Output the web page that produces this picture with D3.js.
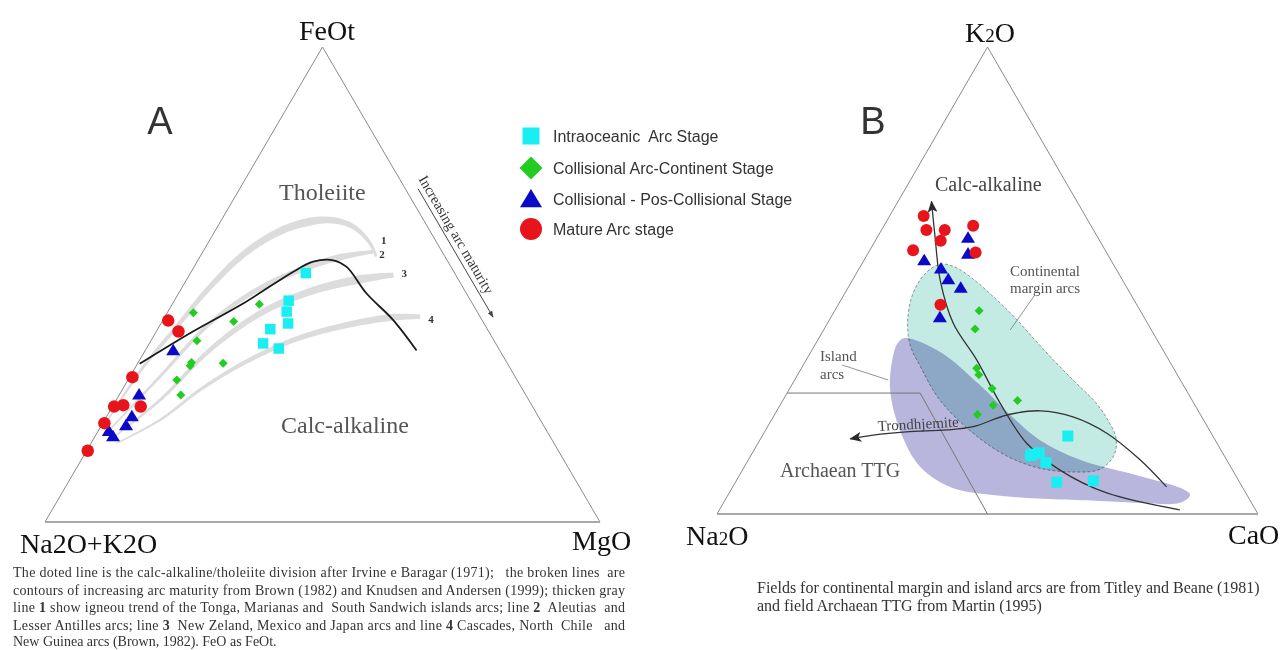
<!DOCTYPE html>
<html>
<head>
<meta charset="utf-8">
<script src="https://cdn.jsdelivr.net/npm/d3@7"></script>
<style>
  body { margin: 0; background: #fff; }
  svg { display: block; }
</style>
</head>
<body>
<svg id="chart" width="1285" height="650"></svg>
<script>
// ===== Diagram A: AFM ternary, each point is [Na2O+K2O, FeOt, MgO] (%)
const afmIntraoceanic = [
  [26.8, 52.4, 20.8], [32.8, 46.6, 20.6], [34.3, 44.3, 21.4], [35.3, 41.8, 22.9],
  [39.1, 40.6, 20.3], [41.9, 37.6, 20.5], [39.7, 36.6, 23.9]
];
const afmCollisionalArc = [
  [51.3, 44.1, 4.7], [38.5, 45.9, 15.7], [44.9, 42.2, 12.9], [53.6, 38.2, 8.3],
  [56.8, 33.6, 9.6], [57.4, 32.9, 9.7], [51.2, 33.4, 15.4], [61.3, 29.9, 8.8],
  [62.1, 26.7, 11.1]
];
const afmPosCollisional = [
  [58.8, 36.2, 5.0], [69.6, 26.9, 3.5], [73.2, 22.3, 4.5], [75.2, 20.4, 4.4],
  [78.7, 18.1, 3.2], [78.9, 19.2, 1.9]
];
const afmMatureArc = [
  [56.6, 42.4, 1.0], [55.9, 40.1, 4.0], [69.0, 30.5, 0.5], [75.4, 24.3, 0.3],
  [73.6, 24.6, 1.8], [70.6, 24.3, 5.1], [78.9, 20.8, 0.3], [84.8, 15.0, 0.2]
];
// Irvine & Baragar (1971) calc-alkaline / tholeiite division
const afmDivision = [
  [66.3, 33.3, 0.4], [53.3, 40.1, 6.6], [41.3, 46.0, 12.7], [28.9, 52.7, 18.4],
  [24.3, 54.8, 20.9], [20.5, 55.1, 24.4], [18.8, 53.7, 27.5], [18.0, 48.1, 33.9],
  [16.0, 42.5, 41.5], [15.0, 36.1, 48.9]
];
// Arc maturity trends (Brown, 1982)
const trend1 = [
  [79.4, 20.1, 0.5], [65.9, 32.7, 1.4], [55.7, 41.1, 3.2], [45.5, 49.5, 5.0],
  [35.2, 56.9, 7.9], [25.6, 61.8, 12.6], [17.4, 63.6, 19.0], [13.4, 62.2, 24.4],
  [12.1, 58.7, 29.2], [12.4, 55.9, 31.7]
];
const trend2 = [
  [80.5, 18.0, 1.5], [64.0, 30.6, 5.4], [49.4, 41.8, 8.8], [36.7, 49.2, 14.1],
  [25.4, 53.8, 20.8], [18.3, 55.9, 25.8], [12.4, 56.9, 30.7]
];
const trend3 = [
  [79.6, 17.3, 3.1], [66.4, 25.7, 7.9], [52.2, 36.2, 11.6], [39.3, 43.9, 16.8],
  [28.0, 48.5, 23.5], [17.7, 51.1, 31.2], [11.2, 52.0, 36.8]
];
const trend4 = [
  [78.8, 16.6, 4.6], [68.5, 21.5, 10.0], [58.2, 27.8, 14.0], [47.6, 33.4, 19.0],
  [36.1, 38.3, 25.6], [25.6, 41.3, 33.1], [15.7, 43.1, 41.2], [10.8, 43.2, 46.0]
];
const trendNames = ["1", "2", "3", "4"];

// ===== Diagram B: Na2O – K2O – CaO ternary, each point is [Na2O, K2O, CaO] (%)
const nkcIntraoceanic = [
  [26.8, 16.7, 56.5], [35.2, 12.8, 52.0], [33.9, 13.1, 53.0], [33.7, 11.0, 55.3],
  [33.8, 6.8, 59.4], [26.9, 7.1, 66.0], [35.8, 12.5, 51.7]
];
const nkcCollisionalArc = [
  [29.8, 43.5, 26.7], [32.5, 39.6, 27.9], [36.4, 31.2, 32.4], [36.7, 29.8, 33.5],
  [35.7, 26.9, 37.4], [37.3, 23.3, 39.4], [32.3, 24.3, 43.4], [41.2, 21.3, 37.5]
];
const nkcPosCollisional = [
  [24.0, 59.2, 16.8], [25.7, 55.8, 18.5], [34.5, 54.4, 11.1], [32.3, 52.6, 15.1],
  [32.1, 50.3, 17.6], [30.7, 48.5, 20.8], [37.7, 42.2, 20.1]
];
const nkcMatureArc = [
  [29.9, 63.8, 6.3], [30.9, 60.8, 8.3], [27.5, 60.8, 11.7], [29.4, 58.5, 12.1],
  [35.5, 56.5, 8.0], [21.8, 61.7, 16.5], [24.2, 56.0, 19.8], [36.3, 44.8, 18.9]
];
// Continental margin arcs field (Titley & Beane, 1981)
const continentalField = [
  [32.0, 53.5, 14.5], [29.6, 52.9, 17.5], [27.5, 50.3, 22.2], [25.5, 46.2, 28.3],
  [23.9, 42.0, 34.1], [22.6, 37.3, 40.1], [21.2, 32.6, 46.2], [19.7, 28.3, 52.0],
  [18.1, 24.0, 57.9], [17.7, 20.1, 62.2], [18.1, 16.3, 65.6], [20.3, 12.6, 67.1],
  [24.4, 9.6, 66.0], [29.7, 9.0, 61.3], [35.4, 9.8, 54.8], [40.2, 12.4, 47.4],
  [44.0, 17.3, 38.7], [46.6, 24.4, 29.0], [46.6, 31.7, 21.7], [46.2, 36.2, 17.6],
  [44.0, 41.5, 14.5], [40.1, 47.3, 12.6], [35.6, 51.6, 12.8]
];
// Archaean TTG field (Martin, 1995)
const ttgField = [
  [46.4, 37.7, 15.9], [41.4, 34.7, 23.9], [37.6, 27.6, 34.8], [35.2, 21.2, 43.6],
  [32.4, 15.8, 51.8], [27.1, 11.6, 61.3], [17.7, 8.1, 74.2], [11.6, 5.6, 82.8],
  [10.5, 4.1, 85.4], [13.2, 2.4, 84.4], [20.6, 2.4, 77.0], [27.8, 2.8, 69.4],
  [45.7, 3.9, 50.4], [54.0, 5.8, 40.2], [57.4, 10.1, 32.5], [57.2, 18.0, 24.8],
  [54.7, 26.6, 18.7], [51.1, 33.0, 15.9], [48.3, 36.6, 15.1]
];
// Island arcs field boundary
const islandBoundary = [[74.1, 25.9, 0.0], [49.5, 25.9, 24.6], [50.0, 0.0, 50.0]];
// Calc-alkaline and trondhjemitic differentiation trends
const calcAlkalineTrend = [
  [14.0, 0.9, 85.1], [25.7, 4.5, 69.8], [31.9, 9.4, 58.7], [35.2, 15.2, 49.6],
  [35.8, 23.8, 40.4], [35.5, 33.0, 31.5], [35.9, 40.9, 23.2], [33.7, 50.1, 16.2],
  [30.0, 59.4, 10.6], [26.9, 66.9, 6.2]
];
const trondhjemiteTrend = [
  [14.0, 5.8, 80.2], [16.0, 11.6, 72.4], [19.3, 17.3, 63.4], [23.8, 20.8, 55.4],
  [29.2, 22.1, 48.7], [35.8, 21.2, 43.0], [43.3, 18.7, 38.0], [48.5, 18.0, 33.5],
  [56.2, 17.6, 26.2], [62.7, 16.9, 20.4], [67.3, 16.1, 16.6]
];
const islandLeader = [[60.9, 31.9, 7.2], [54.0, 28.7, 17.3]];
const continentalLeader = [[17.8, 46.9, 35.3], [26.1, 39.4, 34.5]];

const legendLabels = [
  "Intraoceanic  Arc Stage",
  "Collisional Arc-Continent Stage",
  "Collisional - Pos-Collisional Stage",
  "Mature Arc stage"
];
const stageColors = ["#19eef2", "#22cc22", "#0a0ac8", "#e8141c"];
const stageShapes = ["square", "diamond", "triangle", "circle"];

const captionA = [
  ["The doted line is the calc-alkaline/tholeiite division after Irvine e Baragar (1971);   the broken lines  are"],
  ["contours of increasing arc maturity from Brown (1982) and Knudsen and Andersen (1999); thicken gray"],
  ["line ", "1", " show igneou trend of the Tonga, Marianas and  South Sandwich islands arcs; line ", "2", "  Aleutias  and"],
  ["Lesser Antilles arcs; line ", "3", "  New Zeland, Mexico and Japan arcs and line ", "4", " Cascades, North  Chile   and"],
  ["New Guinea arcs (Brown, 1982). FeO as FeOt."]
];
const captionB = [
  "Fields for continental margin and island arcs are from Titley and Beane (1981)",
  "and field Archaean TTG from Martin (1995)"
];

// ---------------------------------------------------------------------------
const svg = d3.select("#chart");
const serif = "'Liberation Serif', 'Times New Roman', serif";
const sans = "'Liberation Sans', Arial, sans-serif";

// Ternary projection: p = [left, top, right]; x follows right + top/2, y follows top
function makeTernary(x0, x1, yBase, yApex) {
  const x = d3.scaleLinear().domain([0, 1]).range([x0, x1]);
  const y = d3.scaleLinear().domain([0, 1]).range([yBase, yApex]);
  return p => {
    const s = p[0] + p[1] + p[2];
    return [x((p[2] + p[1] / 2) / s), y(p[1] / s)];
  };
}
const projA = makeTernary(45, 600, 522, 47);
const projB = makeTernary(717, 1258, 514, 47);

const defs = svg.append("defs");
defs.append("marker").attr("id", "arrowDark")
  .attr("viewBox", "0 0 12 10").attr("refX", 11).attr("refY", 5)
  .attr("markerWidth", 12).attr("markerHeight", 10)
  .attr("markerUnits", "userSpaceOnUse").attr("orient", "auto")
  .append("path").attr("d", "M0,0 L12,5 L0,10 L3,5 Z").attr("fill", "#2a2a2a");
defs.append("marker").attr("id", "arrowSmall")
  .attr("viewBox", "0 0 8 6").attr("refX", 7).attr("refY", 3)
  .attr("markerWidth", 7).attr("markerHeight", 5)
  .attr("markerUnits", "userSpaceOnUse").attr("orient", "auto")
  .append("path").attr("d", "M0,0 L8,3 L0,6 Z").attr("fill", "#444");

function drawFrame(g, proj) {
  const corners = [[100, 0, 0], [0, 100, 0], [0, 0, 100]].map(proj);
  g.append("path")
    .attr("d", d3.line()([corners[0], corners[1], corners[2]]))
    .attr("fill", "none").attr("stroke", "#8a8a8a").attr("stroke-width", 1);
  g.append("line")
    .attr("x1", corners[0][0]).attr("y1", corners[0][1])
    .attr("x2", corners[2][0]).attr("y2", corners[2][1])
    .attr("stroke", "#a8a8a8").attr("stroke-width", 2);
  return corners;
}

function symbolPath(shape, size) {
  const h = size / 2;
  switch (shape) {
    case "square": return `M${-h},${-h}H${h}V${h}H${-h}Z`;
    case "diamond": return `M0,${-h}L${h},0L0,${h}L${-h},0Z`;
    case "triangle": return `M0,${-h * 0.9}L${h},${h * 0.75}L${-h},${h * 0.75}Z`;
    default: return `M${h},0A${h},${h} 0 1 1 ${-h},0A${h},${h} 0 1 1 ${h},0Z`;
  }
}

function drawPoints(g, proj, data, idx, size) {
  g.selectAll(null).data(data).enter().append("path")
    .attr("transform", d => { const [x, y] = proj(d); return `translate(${x},${y})`; })
    .attr("d", symbolPath(stageShapes[idx], size))
    .attr("fill", stageColors[idx]);
}

// Ribbon whose width grows along the curve
function taperedRibbon(pts, w0, w1, tipFrac, tipW) {
  const tmp = svg.append("path")
    .attr("d", d3.line().curve(d3.curveCatmullRom.alpha(0.5))(pts))
    .attr("fill", "none");
  const node = tmp.node();
  const L = node.getTotalLength();
  const N = 120, left = [], right = [];
  for (let i = 0; i <= N; i++) {
    const t = i / N, s = t * L;
    const p = node.getPointAtLength(s);
    const pa = node.getPointAtLength(Math.max(0, s - 0.6));
    const pb = node.getPointAtLength(Math.min(L, s + 0.6));
    let dx = pb.x - pa.x, dy = pb.y - pa.y;
    const d = Math.hypot(dx, dy) || 1; dx /= d; dy /= d;
    let w = w0 + (w1 - w0) * Math.min(1, t / (1 - tipFrac));
    if (t > 1 - tipFrac) w = w1 + (tipW - w1) * (t - (1 - tipFrac)) / tipFrac;
    left.push([p.x - dy * w / 2, p.y + dx * w / 2]);
    right.push([p.x + dy * w / 2, p.y - dx * w / 2]);
  }
  tmp.remove();
  return d3.line()(left.concat(right.reverse())) + "Z";
}

// ------------------------------- Diagram A ---------------------------------
const gA = svg.append("g");
drawFrame(gA, projA);

const trends = [trend1, trend2, trend3, trend4];
const trendWidths = [[1.5, 8, 0.22, 2.5], [1.5, 6.5, 0.1, 3.5], [1.5, 8.5, 0.1, 5], [1.5, 7, 0.08, 4.5]];
trends.forEach((tr, i) => {
  const w = trendWidths[i];
  gA.append("path").attr("d", taperedRibbon(tr.map(projA), w[0], w[1], w[2], w[3]))
    .attr("fill", "#dcdcdc");
});

gA.append("path")
  .attr("d", d3.line().curve(d3.curveCatmullRom.alpha(0.5))(afmDivision.map(projA)))
  .attr("fill", "none").attr("stroke", "#1a1a1a").attr("stroke-width", 1.8);

// Trend labels at the right end of each ribbon
const trendLabelOffsets = [[5, -12], [6, 6], [8, 2], [8, 6]];
trends.forEach((tr, i) => {
  const [x, y] = projA(tr[tr.length - 1]);
  gA.append("text").attr("x", x + trendLabelOffsets[i][0]).attr("y", y + trendLabelOffsets[i][1])
    .attr("font-family", serif).attr("font-weight", "bold").attr("font-size", 11)
    .attr("fill", "#333").text(trendNames[i]);
});

drawPoints(gA, projA, afmIntraoceanic, 0, 10.5);
drawPoints(gA, projA, afmCollisionalArc, 1, 9);
drawPoints(gA, projA, afmPosCollisional, 2, 14);
drawPoints(gA, projA, afmMatureArc, 3, 12.5);

// Field names
gA.append("text").attr("x", 279).attr("y", 200).attr("font-family", serif)
  .attr("font-size", 24).attr("fill", "#555").text("Tholeiite");
gA.append("text").attr("x", 281).attr("y", 433).attr("font-family", serif)
  .attr("font-size", 24).attr("fill", "#555").text("Calc-alkaline");

// "Increasing arc maturity" arrow parallel to the FeOt–MgO side
{
  const top = projA([0, 100, 0]), br = projA([0, 0, 100]);
  const len = Math.hypot(br[0] - top[0], br[1] - top[1]);
  const ux = (br[0] - top[0]) / len, uy = (br[1] - top[1]) / len;
  const nx = -uy, ny = ux; // normal pointing away from the triangle
  const along = (t, off) => [top[0] + ux * len * t - nx * off, top[1] + uy * len * t - ny * off];
  const a0 = along(0.31, 11), a1 = along(0.58, 11);
  gA.append("line").attr("x1", a0[0]).attr("y1", a0[1]).attr("x2", a1[0]).attr("y2", a1[1])
    .attr("stroke", "#444").attr("stroke-width", 1).attr("marker-end", "url(#arrowSmall)");
  const angle = Math.atan2(uy, ux) * 180 / Math.PI;
  const t0 = along(0.295, 16);
  gA.append("text").attr("transform", `translate(${t0[0]},${t0[1]}) rotate(${angle})`)
    .attr("font-family", serif).attr("font-size", 14.5).attr("fill", "#333")
    .text("Increasing arc maturity");
}

// Vertex labels
gA.append("text").attr("x", 327).attr("y", 40).attr("text-anchor", "middle")
  .attr("font-family", serif).attr("font-size", 28).attr("fill", "#111").text("FeOt");
gA.append("text").attr("x", 20).attr("y", 553)
  .attr("font-family", serif).attr("font-size", 28).attr("fill", "#111").text("Na2O+K2O");
gA.append("text").attr("x", 572).attr("y", 550)
  .attr("font-family", serif).attr("font-size", 28).attr("fill", "#111").text("MgO");
gA.append("text").attr("x", 160).attr("y", 134).attr("text-anchor", "middle")
  .attr("font-family", sans).attr("font-size", 38).attr("fill", "#333").text("A");

// Legend
const legend = svg.append("g");
const legendRows = [136, 168, 199, 229];
const legendSizes = [17, 23, 22, 22];
legendLabels.forEach((lab, i) => {
  legend.append("path").attr("transform", `translate(531,${legendRows[i]})`)
    .attr("d", symbolPath(stageShapes[i], legendSizes[i])).attr("fill", stageColors[i]);
  legend.append("text").attr("x", 553).attr("y", legendRows[i] + 6)
    .attr("font-family", sans).attr("font-size", 16).attr("fill", "#333")
    .attr("xml:space", "preserve").style("white-space", "pre").text(lab);
});

// ------------------------------- Diagram B ---------------------------------
const gB = svg.append("g");
const smooth = d3.line().curve(d3.curveCatmullRomClosed.alpha(0.5));
gB.append("path").attr("d", smooth(ttgField.map(projB))).attr("fill", "#b9b6de");
gB.append("path").attr("d", smooth(continentalField.map(projB)))
  .attr("fill", "#c3ebe4").style("mix-blend-mode", "multiply")
  .attr("stroke", "#6f7f7c").attr("stroke-width", 0.8).attr("stroke-dasharray", "3,2");

drawFrame(gB, projB);

gB.append("path").attr("d", d3.line()(islandBoundary.map(projB)))
  .attr("fill", "none").attr("stroke", "#777").attr("stroke-width", 1);
gB.append("path").attr("d", d3.line()(islandLeader.map(projB)))
  .attr("fill", "none").attr("stroke", "#777").attr("stroke-width", 0.8);
gB.append("path").attr("d", d3.line()(continentalLeader.map(projB)))
  .attr("fill", "none").attr("stroke", "#777").attr("stroke-width", 0.8);

const openCurve = d3.line().curve(d3.curveCatmullRom.alpha(0.5));
gB.append("path").attr("d", openCurve(calcAlkalineTrend.map(projB)))
  .attr("fill", "none").attr("stroke", "#333").attr("stroke-width", 1.3)
  .attr("marker-end", "url(#arrowDark)");
gB.append("path").attr("d", openCurve(trondhjemiteTrend.map(projB)))
  .attr("fill", "none").attr("stroke", "#333").attr("stroke-width", 1.3)
  .attr("marker-end", "url(#arrowDark)");

drawPoints(gB, projB, nkcIntraoceanic, 0, 11);
drawPoints(gB, projB, nkcCollisionalArc, 1, 9);
drawPoints(gB, projB, nkcPosCollisional, 2, 14);
drawPoints(gB, projB, nkcMatureArc, 3, 12);

gB.append("text").attr("x", 935).attr("y", 191).attr("font-family", serif)
  .attr("font-size", 20).attr("fill", "#444").text("Calc-alkaline");
gB.append("text").attr("x", 1010).attr("y", 276).attr("font-family", serif)
  .attr("font-size", 15).attr("fill", "#555").text("Continental");
gB.append("text").attr("x", 1010).attr("y", 293).attr("font-family", serif)
  .attr("font-size", 15).attr("fill", "#555").text("margin arcs");
gB.append("text").attr("x", 820).attr("y", 361).attr("font-family", serif)
  .attr("font-size", 15).attr("fill", "#555").text("Island");
gB.append("text").attr("x", 820).attr("y", 379).attr("font-family", serif)
  .attr("font-size", 15).attr("fill", "#555").text("arcs");
gB.append("text").attr("transform", "translate(878,431) rotate(-3)").attr("font-family", serif)
  .attr("font-size", 15).attr("fill", "#444").text("Trondhjemite");
gB.append("text").attr("x", 780).attr("y", 477).attr("font-family", serif)
  .attr("font-size", 20).attr("fill", "#555").text("Archaean TTG");

const k2o = gB.append("text").attr("x", 990).attr("y", 42).attr("text-anchor", "middle")
  .attr("font-family", serif).attr("font-size", 28).attr("fill", "#111");
k2o.append("tspan").text("K");
k2o.append("tspan").attr("font-size", 19).text("2");
k2o.append("tspan").text("O");
const na2o = gB.append("text").attr("x", 686).attr("y", 545)
  .attr("font-family", serif).attr("font-size", 28).attr("fill", "#111");
na2o.append("tspan").text("Na");
na2o.append("tspan").attr("font-size", 19).text("2");
na2o.append("tspan").text("O");
gB.append("text").attr("x", 1228).attr("y", 544)
  .attr("font-family", serif).attr("font-size", 28).attr("fill", "#111").text("CaO");
gB.append("text").attr("x", 873).attr("y", 134).attr("text-anchor", "middle")
  .attr("font-family", sans).attr("font-size", 38).attr("fill", "#333").text("B");

// ------------------------------- Captions ----------------------------------
const capA = svg.append("g");
const capBaselines = [577, 594.5, 612, 629.5, 646];
captionA.forEach((parts, i) => {
  const t = capA.append("text").attr("x", 13).attr("y", capBaselines[i])
    .attr("font-family", serif).attr("font-size", 14).attr("fill", "#333")
    .style("white-space", "pre");
  if (i < 4) t.attr("textLength", 612).attr("lengthAdjust", "spacing");
  parts.forEach((p, j) => {
    t.append("tspan").attr("font-weight", j % 2 === 1 ? "bold" : "normal").text(p);
  });
});
captionB.forEach((line, i) => {
  svg.append("text").attr("x", 757).attr("y", 593 + i * 18)
    .attr("font-family", serif).attr("font-size", 16).attr("fill", "#333").text(line);
});
</script>
</body>
</html>
